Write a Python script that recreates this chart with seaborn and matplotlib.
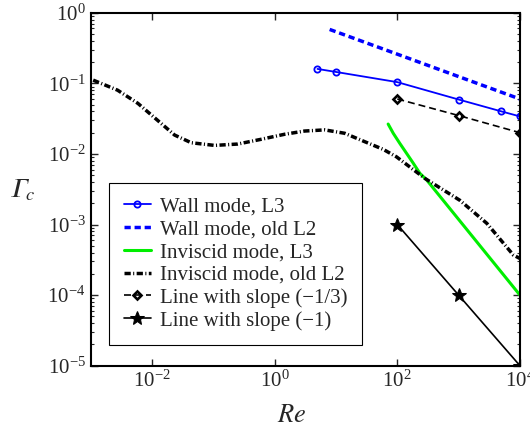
import numpy as np
import matplotlib
matplotlib.use("Agg")
import matplotlib.pyplot as plt
import seaborn as sns

# wall mode, L3
re_wall = [5, 10, 100, 1000, 5000, 10000]
g_wall = [0.16, 0.145, 0.104, 0.059, 0.040, 0.034]

# wall mode, old L2
re_wall_old = [7.9, 10000]
g_wall_old = [0.58, 0.06]

# inviscid mode, L3
re_inv = [71, 86, 110, 182, 234, 300, 10000]
g_inv = [0.0265, 0.0196, 0.0141, 0.0074, 0.0053, 0.0043, 0.0001]

# inviscid mode, old L2
re_inv_old = [1.1e-3, 2.75e-3, 5.9e-3, 1.23e-2, 2.34e-2, 4.37e-2, 0.105, 0.25, 0.60,
              1.46, 3.09, 6.56, 13.9, 29.5, 59, 97, 282, 1050, 2880, 7800, 10000]
g_inv_old = [0.111, 0.080, 0.052, 0.030, 0.0185, 0.0144, 0.0132, 0.0138, 0.0161,
             0.019, 0.0211, 0.0219, 0.0196, 0.0149, 0.0116, 0.0091, 0.0045, 0.0022,
             0.00104, 0.00037, 0.00033]

# reference slopes
re_s3 = [100, 1000, 10000]
g_s3 = [0.06, 0.035, 0.02]
re_s1 = [100, 1000, 10000]
g_s1 = [1e-3, 1e-4, 1e-5]

sns.set_style("ticks")
plt.rcParams["font.family"] = ["Liberation Serif", "DejaVu Serif"]
plt.rcParams["mathtext.fontset"] = "stix"
plt.rcParams["font.size"] = 15

fig = plt.figure(figsize=(5.3, 4.32), dpi=100)
ax = fig.add_axes([0.171, 0.1535, 0.81, 0.817])
ax.set_xscale("log")
ax.set_yscale("log")

sns.lineplot(x=re_wall, y=g_wall, ax=ax, color="#0000ff", lw=1.3, marker="o",
             markersize=4.5, markerfacecolor="none", markeredgecolor="#0000ff",
             markeredgewidth=1.3, label="Wall mode, L3")
sns.lineplot(x=re_wall_old, y=g_wall_old, ax=ax, color="#0000ff", lw=2.5,
             label="Wall mode, old L2")
ax.lines[-1].set_dashes((1.8, 1.1))
sns.lineplot(x=re_inv, y=g_inv, ax=ax, color="#00ee00", lw=2.2,
             label="Inviscid mode, L3")
sns.lineplot(x=re_inv_old, y=g_inv_old, ax=ax, color="black", lw=2.5,
             label="Inviscid mode, old L2", sort=False)
ax.lines[-1].set_dashes((1.8, 0.7, 0.3, 0.7))
sns.lineplot(x=re_s3, y=g_s3, ax=ax, color="black", lw=1.2, marker="D",
             markersize=4.5, markerfacecolor="none", markeredgecolor="black",
             markeredgewidth=1.9, label="Line with slope (\u22121/3)")
ax.lines[-1].set_dashes((4.2, 2.4))
sns.lineplot(x=re_s1, y=g_s1, ax=ax, color="black", lw=1.2, marker="*",
             markersize=10, markeredgecolor="black", markerfacecolor="black",
             label="Line with slope (\u22121)")

ax.set_xlim(1e-3, 1e4)
ax.set_ylim(1e-5, 1e0)
ax.set_xticks([1e-2, 1e0, 1e2, 1e4])
ax.xaxis.set_minor_locator(matplotlib.ticker.NullLocator())
ax.yaxis.set_major_locator(matplotlib.ticker.LogLocator(base=10, numticks=10))
ax.yaxis.set_minor_locator(matplotlib.ticker.LogLocator(base=10, subs=np.arange(2, 10), numticks=20))
ax.tick_params(which="both", direction="in", top=True, right=True, labelsize=15)
ax.tick_params(which="major", length=5, width=1)
ax.tick_params(which="minor", length=2.5, width=0.8)
for s in ax.spines.values():
    s.set_linewidth(1.5)
    s.set_color("black")

ax.set_xlabel("$\\mathit{Re}$", fontsize=19)
ax.xaxis.set_label_coords(0.469, -0.11)
ax.set_ylabel("$\U0001D6E4_c$", fontsize=19, rotation=0, va="center")
ax.yaxis.set_label_coords(-0.16, 0.497)

leg = ax.legend(loc="lower left", bbox_to_anchor=(0.043, 0.058), borderaxespad=0,
                fancybox=False, framealpha=1, edgecolor="black", fontsize=15,
                handlelength=1.3, labelspacing=0.15, borderpad=0.7, handletextpad=0.45)
leg.get_frame().set_linewidth(0.8)

fig.savefig("out.png", dpi=100)
